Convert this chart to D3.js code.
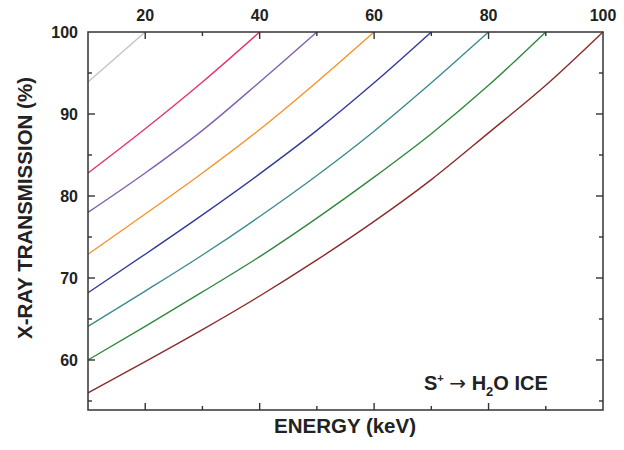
<!DOCTYPE html>
<html>
<head>
<meta charset="utf-8">
<script src="https://cdn.jsdelivr.net/npm/d3@7"></script>
<style>
  body { margin: 0; background: #fff; }
  text { font-family: "Liberation Sans", Arial, sans-serif; font-weight: bold; fill: #222; }
</style>
</head>
<body>
<svg id="chart" width="624" height="450"></svg>
<script>
// data (energy keV -> transmission %)
const energy = [10, 20, 30, 40, 50, 60, 70, 80, 90, 100];
const gray   = [93.9, 100];
const pink   = [82.8, 88.2, 93.9, 100];
const purple = [78.0, 82.8, 88.0, 93.9, 100];
const orange = [72.9, 77.8, 82.8, 88.1, 93.9, 100];
const blue   = [68.2, 72.9, 77.7, 82.7, 88.0, 93.8, 100];
const teal   = [64.1, 68.4, 72.8, 77.5, 82.5, 87.9, 93.8, 100];
const green  = [60.0, 64.1, 68.3, 72.6, 77.3, 82.3, 87.6, 93.5, 100];
const brown  = [56.0, 59.8, 63.7, 67.8, 72.2, 76.9, 82.0, 87.7, 93.5, 100];

const series = [gray, pink, purple, orange, blue, teal, green, brown];
const colors = ['#c4c4c4', '#e8336f', '#8060b0', '#f79428', '#333a9a', '#3b8c8e', '#2f8a3c', '#8b2b2b'];

const xMajor = [20, 40, 60, 80];
const xMinor = [30, 50, 70, 90];
const xLabels = [20, 40, 60, 80, 100];
const yMajor = [60, 70, 80, 90];
const yMinor = [55, 65, 75, 85, 95];
const yLabels = [60, 70, 80, 90, 100];

const svg = d3.select('#chart');
const L = 88, R = 603, T = 32, B = 410;

const x = d3.scaleLinear().domain([10, 100]).range([L, R]);
const y = d3.scaleLinear().domain([53.9, 100]).range([B, T]);

// curves
const line = d3.line()
  .x((d, i) => x(energy[i]))
  .y(d => y(d))
  .curve(d3.curveMonotoneX);

svg.append('g').selectAll('path')
  .data(series)
  .join('path')
  .attr('d', d => line(d))
  .attr('fill', 'none')
  .attr('stroke', (d, i) => colors[i])
  .attr('stroke-width', 1.4);

// frame
svg.append('rect')
  .attr('x', L).attr('y', T).attr('width', R - L).attr('height', B - T)
  .attr('fill', 'none').attr('stroke', '#333').attr('stroke-width', 1.5);

// inward ticks
const tk = svg.append('g').attr('stroke', '#333').attr('stroke-width', 1.4);
function xTicks(vals, len){
  vals.forEach(v => {
    tk.append('line').attr('x1', x(v)).attr('x2', x(v)).attr('y1', B).attr('y2', B - len);
    tk.append('line').attr('x1', x(v)).attr('x2', x(v)).attr('y1', T).attr('y2', T + len);
  });
}
function yTicks(vals, len){
  vals.forEach(v => {
    tk.append('line').attr('y1', y(v)).attr('y2', y(v)).attr('x1', L).attr('x2', L + len);
    tk.append('line').attr('y1', y(v)).attr('y2', y(v)).attr('x1', R).attr('x2', R - len);
  });
}
xTicks(xMajor, 7); xTicks(xMinor, 4);
yTicks(yMajor, 7); yTicks(yMinor, 4);

// tick labels
svg.append('g').selectAll('text')
  .data(xLabels).join('text')
  .attr('x', d => x(d)).attr('y', 21)
  .attr('text-anchor', 'middle')
  .attr('font-size', 16)
  .text(d => d);

svg.append('g').selectAll('text')
  .data(yLabels).join('text')
  .attr('x', 78).attr('y', d => y(d)).attr('dy', '0.36em')
  .attr('text-anchor', 'end')
  .attr('font-size', 16)
  .text(d => d);

// axis titles
svg.append('text')
  .attr('transform', 'translate(32,208) rotate(-90)')
  .attr('text-anchor', 'middle')
  .attr('font-size', 20.5)
  .text('X-RAY TRANSMISSION (%)');

svg.append('text')
  .attr('x', 345).attr('y', 433)
  .attr('text-anchor', 'middle')
  .attr('font-size', 20.5)
  .text('ENERGY (keV)');

// annotation
const ann = svg.append('text').attr('x', 424).attr('y', 390).attr('font-size', 20);
ann.append('tspan').text('S');
ann.append('tspan').attr('dy', -8).attr('font-size', 11).text('+');
ann.append('tspan').attr('dy', 8).text(' ');
ann.append('tspan').attr('font-family', '"DejaVu Sans", sans-serif').attr('font-weight', 'normal').text('\u2192');
ann.append('tspan').text(' H');
ann.append('tspan').attr('dy', 6).attr('font-size', 13).text('2');
ann.append('tspan').attr('dy', -6).text('O ICE');
</script>
</body>
</html>
